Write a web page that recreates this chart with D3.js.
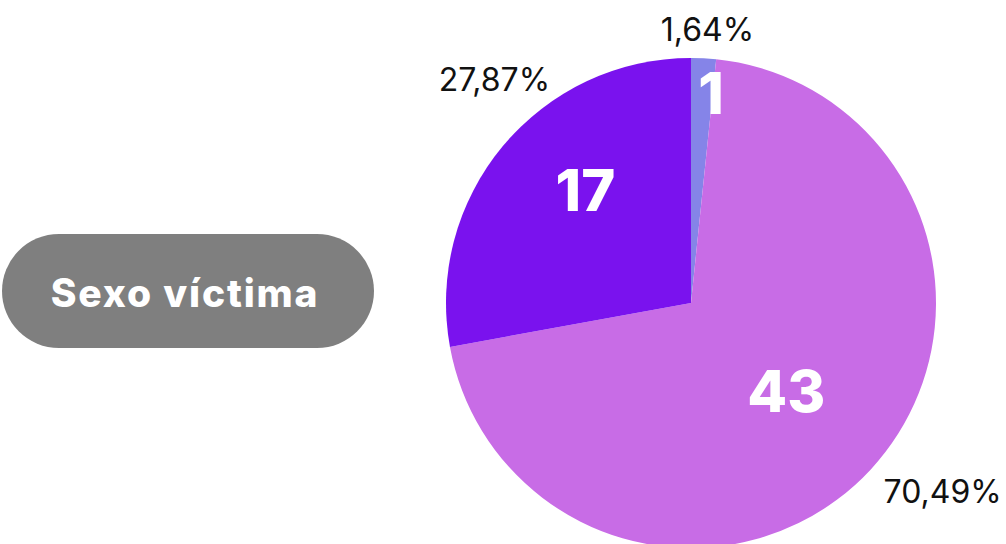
<!DOCTYPE html>
<html><head><meta charset="utf-8">
<script src="https://cdn.jsdelivr.net/npm/d3@7"></script>
<style>html,body{margin:0;padding:0;background:#fff;overflow:hidden}</style>
</head><body>
<svg id="c" width="1006" height="544"></svg>
<script>
const categories = ["Otro", "Mujer", "Hombre"];
const values = [1, 43, 17];
const percentLabels = ["1,64%", "70,49%", "27,87%"];
const colors = ["#8584e8", "#c86ce6", "#7a12ee"];
const title = "Sexo víctima";

const svg = d3.select("#c");
const cx = 691, cy = 303, r = 245;

// title pill
const pill = svg.append("g");
pill.append("rect").attr("x", 2).attr("y", 234).attr("width", 372).attr("height", 114)
  .attr("rx", 57).attr("ry", 57).attr("fill", "#7f7f7f");
pill.append("text").attr("x", 185).attr("y", 292)
  .attr("text-anchor", "middle").attr("dominant-baseline", "central")
  .attr("font-family", "Inter, 'Open Sans', sans-serif").attr("font-weight", 800)
  .attr("font-size", 39).attr("letter-spacing", 1.8).attr("fill", "#fff").text(title);

const pie = d3.pie().sort(null).value(d => d)(values);
const arc = d3.arc().innerRadius(0).outerRadius(r);
const g = svg.append("g").attr("transform", `translate(${cx},${cy})`);

g.selectAll("path.slice").data(pie).join("path").attr("class", "slice")
  .attr("d", arc).attr("fill", (d, i) => colors[i]);

const deg = Math.PI / 180;
const frac = d => (d.endAngle - d.startAngle) / (2 * Math.PI);
// layout: label placement tweaks
const valLayout = d => {
  const f = frac(d);
  if (f < 0.05) return { k: 0.86, da: 2.5 * deg };
  if (f < 0.5) return { k: 0.63, da: 7 * deg };
  return { k: 0.53, da: 0 };
};
const pctLayout = d => {
  const f = frac(d);
  if (f < 0.05) return { k: 1.12, da: 0.5 * deg };
  if (f < 0.5) return { k: 1.08, da: 18 * deg };
  return { k: 1.1, da: 1.6 * deg };
};

g.selectAll("text.val").data(pie).join("text").attr("class", "val")
  .attr("transform", d => {
    const L = valLayout(d);
    const a = (d.startAngle + d.endAngle) / 2 + L.da;
    const rr = r * L.k;
    return `translate(${Math.sin(a) * rr},${-Math.cos(a) * rr})`;
  })
  .attr("text-anchor", "middle").attr("dominant-baseline", "central")
  .attr("font-family", "Inter, 'Open Sans', sans-serif").attr("font-weight", 800)
  .attr("font-size", 58).attr("fill", "#fff")
  .text(d => d.data);

g.selectAll("text.pct").data(pie).join("text").attr("class", "pct")
  .attr("transform", d => {
    const L = pctLayout(d);
    const a = (d.startAngle + d.endAngle) / 2 + L.da;
    const rr = r * L.k;
    return `translate(${Math.sin(a) * rr},${-Math.cos(a) * rr})`;
  })
  .attr("text-anchor", d => {
    const a = (d.startAngle + d.endAngle) / 2;
    const s = Math.sin(a);
    return Math.abs(s) < 0.2 ? "middle" : (s > 0 ? "start" : "end");
  })
  .attr("dominant-baseline", "central")
  .attr("font-family", "Inter, 'Open Sans', sans-serif").attr("font-weight", 400)
  .attr("font-size", 32).attr("fill", "#111")
  .text((d, i) => percentLabels[i]);
</script>
</body></html>
